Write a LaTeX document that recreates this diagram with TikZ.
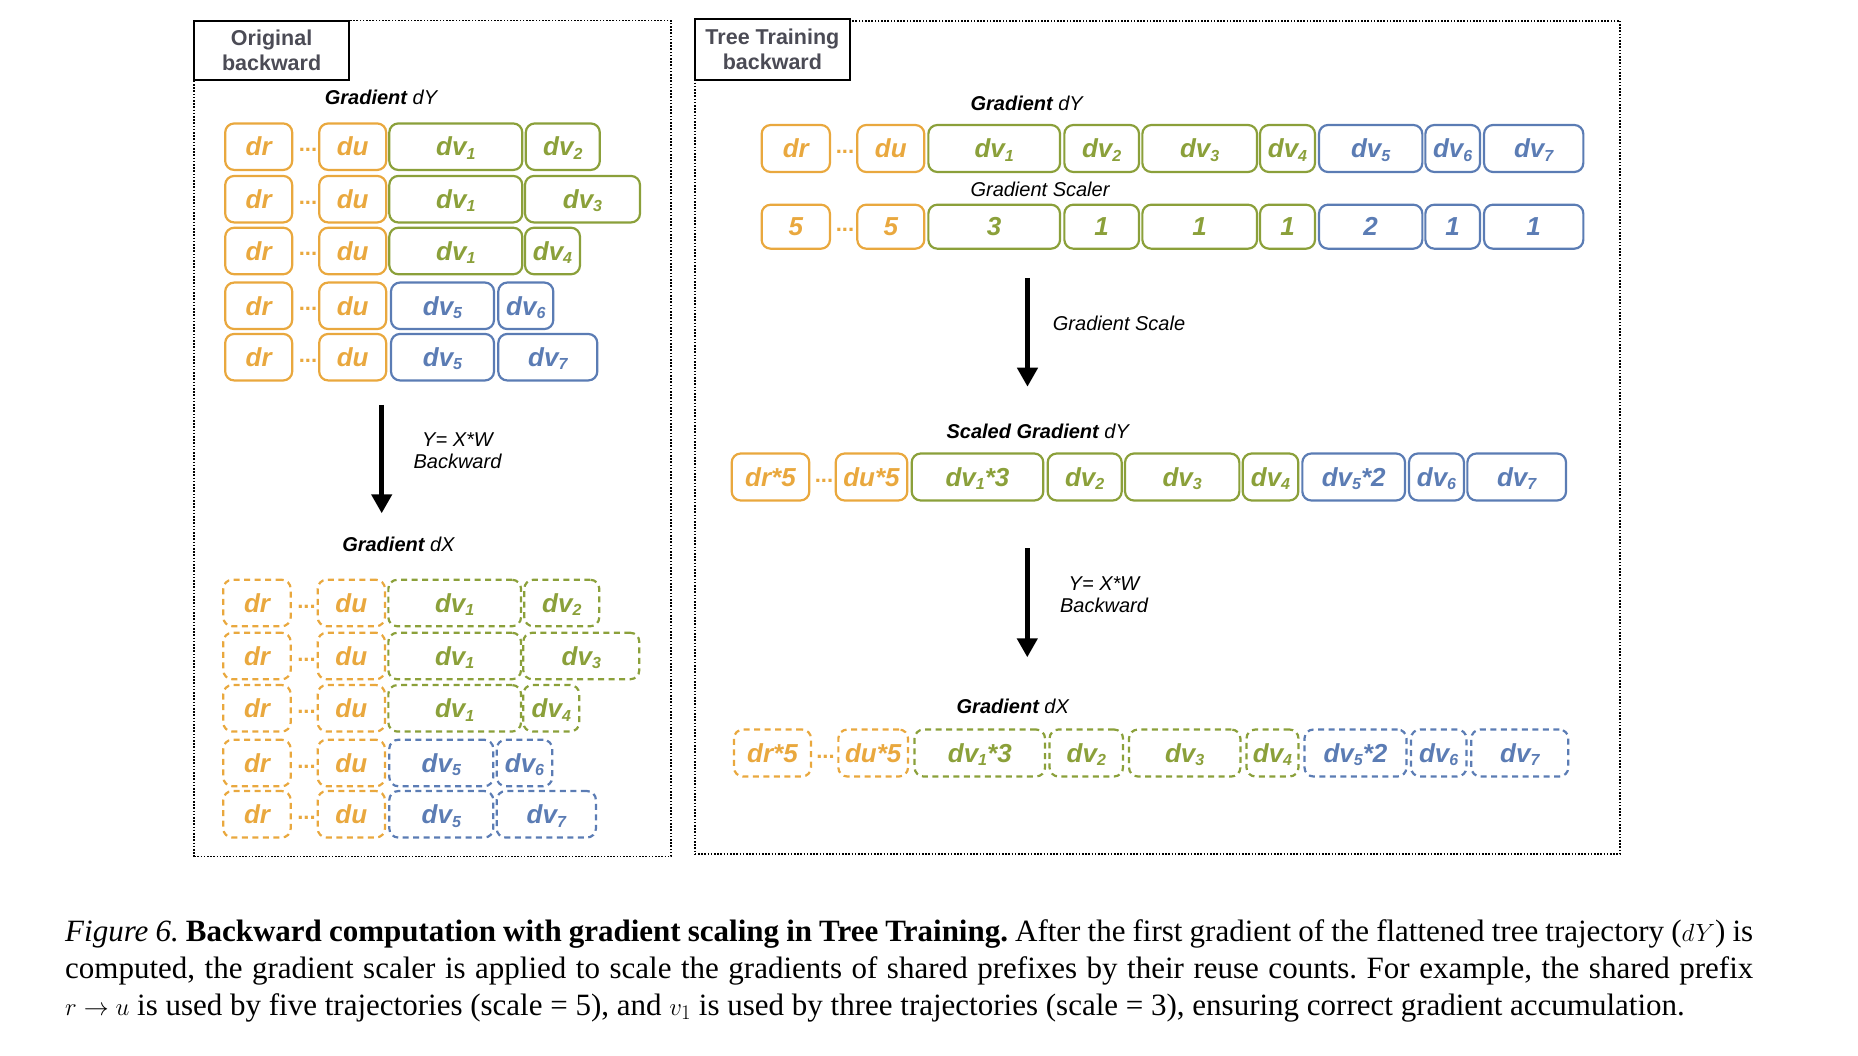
\documentclass[tikz,border=0pt]{standalone}
\usepackage{fontspec}
\setmainfont{Liberation Serif}
\setsansfont{Liberation Sans}
\usetikzlibrary{arrows.meta}
\definecolor{cor}{RGB}{233,168,62}
\definecolor{cgr}{RGB}{139,160,58}
\definecolor{cbl}{RGB}{91,124,180}
\definecolor{chd}{RGB}{75,75,85}
\newcommand\sbs[1]{\raisebox{-3.5pt}{\fontsize{16}{16}\selectfont #1}}
\newcommand\bxn[8]{\node[#1=#2,minimum width=#6pt,minimum height=#7pt] (#3) at (#4,#5) {#8};}
\begin{document}
\begin{tikzpicture}[x=1pt,y=-1pt,
  bxbase/.style={draw=#1,text=#1,rounded corners=9pt,line width=2.2pt,inner sep=0pt,outer sep=0pt,
    font=\sffamily\bfseries\itshape\fontsize{26}{26}\selectfont,text height=18.5pt,text depth=0pt},
  sb/.style={bxbase=#1},
  db/.style={bxbase=#1,dash pattern=on 6pt off 4.5pt},
  dots/.style={text=#1,anchor=base,inner sep=0pt,font=\sffamily\bfseries\fontsize{22}{22}\selectfont},
  ttl/.style={inner sep=0pt,font=\sffamily\itshape\fontsize{20}{20}\selectfont,text height=14.3pt,text depth=0pt},
  lbl/.style={inner sep=0pt,align=center,font=\sffamily\itshape\fontsize{20}{21.7}\selectfont},
  frame/.style={draw=black,line width=1.6pt,dash pattern=on 1.6pt off 1.6pt,inner sep=0pt},
  hdr/.style={draw=black,fill=white,line width=2pt,inner sep=0pt,align=center,text=chd,
    font=\sffamily\bfseries\fontsize{21.5}{25}\selectfont},
  big/.style={line width=4.5pt,-{Triangle[width=20pt,length=19pt]}},
  captxt/.style={anchor=north west,inner sep=0pt,text width=1688pt,align=justify,font=\fontsize{31}{37}\selectfont\frenchspacing}
]
\useasboundingbox (0,0) rectangle (1858,1056);
% frames
\node[frame,minimum width=476.8pt,minimum height=835.8pt] (LF) at (432.6,438.6) {};
\node[frame,minimum width=925.2pt,minimum height=833.3pt] (RF) at (1157.4,437.4) {};
\node[hdr,minimum width=154.8pt,minimum height=59.3pt] (LH) at (271.6,50.4) {Original\\backward};
\node[hdr,minimum width=155.2pt,minimum height=60.7pt] (RH) at (772.4,49.7) {Tree Training\\backward};

% ---------- left: Gradient dY ----------
\node[ttl] (ltY) at (381,97) {\textbf{Gradient} dY};
% row 1
\bxn{sb}{cor}{a1r}{258.7}{146.7}{67}{46.5}{dr}
\node[dots=cor] (a1d) at (308,151.7) {...};
\bxn{sb}{cor}{a1u}{352.7}{146.7}{67}{46.5}{du}
\bxn{sb}{cgr}{a1v}{455.8}{146.7}{133}{46.5}{dv\sbs{1}}
\bxn{sb}{cgr}{a1w}{562.8}{146.7}{74}{46.5}{dv\sbs{2}}
% row 2
\bxn{sb}{cor}{a2r}{258.7}{199.2}{67}{46.5}{dr}
\node[dots=cor] (a2d) at (308,204.2) {...};
\bxn{sb}{cor}{a2u}{352.7}{199.2}{67}{46.5}{du}
\bxn{sb}{cgr}{a2v}{455.8}{199.2}{133}{46.5}{dv\sbs{1}}
\bxn{sb}{cgr}{a2w}{582.5}{199.2}{115}{46.5}{dv\sbs{3}}
% row 3
\bxn{sb}{cor}{a3r}{258.7}{251}{67}{46.5}{dr}
\node[dots=cor] (a3d) at (308,256) {...};
\bxn{sb}{cor}{a3u}{352.7}{251}{67}{46.5}{du}
\bxn{sb}{cgr}{a3v}{455.8}{251}{133}{46.5}{dv\sbs{1}}
\bxn{sb}{cgr}{a3w}{552.5}{251}{55}{46.5}{dv\sbs{4}}
% row 4
\bxn{sb}{cor}{a4r}{258.7}{305.8}{67}{46.5}{dr}
\node[dots=cor] (a4d) at (308,310.8) {...};
\bxn{sb}{cor}{a4u}{352.7}{305.8}{67}{46.5}{du}
\bxn{sb}{cbl}{a4v}{442.5}{305.8}{103}{46.5}{dv\sbs{5}}
\bxn{sb}{cbl}{a4w}{525.8}{305.8}{55}{46.5}{dv\sbs{6}}
% row 5
\bxn{sb}{cor}{a5r}{258.7}{357.2}{67}{46.5}{dr}
\node[dots=cor] (a5d) at (308,362.2) {...};
\bxn{sb}{cor}{a5u}{352.7}{357.2}{67}{46.5}{du}
\bxn{sb}{cbl}{a5v}{442.5}{357.2}{103}{46.5}{dv\sbs{5}}
\bxn{sb}{cbl}{a5w}{547.8}{357.2}{99}{46.5}{dv\sbs{7}}

% arrow left
\coordinate (la0) at (381.7,405);
\coordinate (la1) at (381.7,513.3);
\draw[big] (la0) -- (la1);
\node[lbl] (lYW) at (457.5,451) {Y= X*W\\Backward};

% ---------- left: Gradient dX ----------
\node[ttl] (ltX) at (398.4,544) {\textbf{Gradient} dX};
% row 1
\bxn{db}{cor}{b1r}{257}{603}{67.4}{46.5}{dr}
\node[dots=cor] (b1d) at (306.5,608) {...};
\bxn{db}{cor}{b1u}{351.3}{603}{67.3}{46.5}{du}
\bxn{db}{cgr}{b1v}{454.7}{603}{132.7}{46.5}{dv\sbs{1}}
\bxn{db}{cgr}{b1w}{561.8}{603}{75}{46.5}{dv\sbs{2}}
% row 2
\bxn{db}{cor}{b2r}{257}{656}{67.4}{46.5}{dr}
\node[dots=cor] (b2d) at (306.5,661) {...};
\bxn{db}{cor}{b2u}{351.3}{656}{67.3}{46.5}{du}
\bxn{db}{cgr}{b2v}{454.7}{656}{132.7}{46.5}{dv\sbs{1}}
\bxn{db}{cgr}{b2w}{581.3}{656}{116}{46.5}{dv\sbs{3}}
% row 3
\bxn{db}{cor}{b3r}{257}{708.3}{67.4}{46.5}{dr}
\node[dots=cor] (b3d) at (306.5,713.3) {...};
\bxn{db}{cor}{b3u}{351.3}{708.3}{67.3}{46.5}{du}
\bxn{db}{cgr}{b3v}{454.7}{708.3}{132.7}{46.5}{dv\sbs{1}}
\bxn{db}{cgr}{b3w}{551.3}{708.3}{56}{46.5}{dv\sbs{4}}
% row 4
\bxn{db}{cor}{b4r}{257}{763}{67.4}{46.5}{dr}
\node[dots=cor] (b4d) at (306.5,768) {...};
\bxn{db}{cor}{b4u}{351.3}{763}{67.3}{46.5}{du}
\bxn{db}{cbl}{b4v}{441.3}{763}{104}{46.5}{dv\sbs{5}}
\bxn{db}{cbl}{b4w}{524.5}{763}{55.6}{46.5}{dv\sbs{6}}
% row 5
\bxn{db}{cor}{b5r}{257}{814.3}{67.4}{46.5}{dr}
\node[dots=cor] (b5d) at (306.5,819.3) {...};
\bxn{db}{cor}{b5u}{351.3}{814.3}{67.3}{46.5}{du}
\bxn{db}{cbl}{b5v}{441.3}{814.3}{104}{46.5}{dv\sbs{5}}
\bxn{db}{cbl}{b5w}{546.3}{814.3}{99.3}{46.5}{dv\sbs{7}}

% ---------- right: Gradient dY ----------
\node[ttl] (rtY) at (1026.7,103.3) {\textbf{Gradient} dY};
\bxn{sb}{cor}{c1}{795.8}{148.5}{68.3}{47}{dr}
\node[dots=cor] (cd) at (845,153.5) {...};
\bxn{sb}{cor}{c2}{890.8}{148.5}{67}{47}{du}
\bxn{sb}{cgr}{c3}{994.2}{148.5}{131.7}{47}{dv\sbs{1}}
\bxn{sb}{cgr}{c4}{1101.7}{148.5}{74.7}{47}{dv\sbs{2}}
\bxn{sb}{cgr}{c5}{1199.7}{148.5}{114.7}{47}{dv\sbs{3}}
\bxn{sb}{cgr}{c6}{1287.5}{148.5}{55}{47}{dv\sbs{4}}
\bxn{sb}{cbl}{c7}{1370.7}{148.5}{103.3}{47}{dv\sbs{5}}
\bxn{sb}{cbl}{c8}{1452.7}{148.5}{54.7}{47}{dv\sbs{6}}
\bxn{sb}{cbl}{c9}{1533.7}{148.5}{99.3}{47}{dv\sbs{7}}

\node[ttl] (rtS) at (1040,189.3) {Gradient Scaler};
\bxn{sb}{cor}{s1}{795.8}{226.7}{68.3}{44}{5}
\node[dots=cor] (sd) at (845,231.7) {...};
\bxn{sb}{cor}{s2}{890.8}{226.7}{67}{44}{5}
\bxn{sb}{cgr}{s3}{994.2}{226.7}{131.7}{44}{3}
\bxn{sb}{cgr}{s4}{1101.7}{226.7}{74.7}{44}{1}
\bxn{sb}{cgr}{s5}{1199.7}{226.7}{114.7}{44}{1}
\bxn{sb}{cgr}{s6}{1287.5}{226.7}{55}{44}{1}
\bxn{sb}{cbl}{s7}{1370.7}{226.7}{103.3}{44}{2}
\bxn{sb}{cbl}{s8}{1452.7}{226.7}{54.7}{44}{1}
\bxn{sb}{cbl}{s9}{1533.7}{226.7}{99.3}{44}{1}

% arrow: gradient scale
\coordinate (ra0) at (1027.5,278);
\coordinate (ra1) at (1027.5,386.7);
\draw[big] (ra0) -- (ra1);
\node[ttl,anchor=west] (rtGS) at (1052.7,323.3) {Gradient Scale};

% ---------- right: Scaled Gradient dY ----------
\node[ttl] (rtSY) at (1037.7,431.7) {\textbf{Scaled Gradient} dY};
\bxn{sb}{cor}{d1}{770.5}{477}{77.6}{47}{dr*5}
\node[dots=cor] (dd) at (824,482) {...};
\bxn{sb}{cor}{d2}{871.5}{477}{71.6}{47}{du*5}
\bxn{sb}{cgr}{d3}{977.5}{477}{131.6}{47}{dv\sbs{1}*3}
\bxn{sb}{cgr}{d4}{1084.7}{477}{74}{47}{dv\sbs{2}}
\bxn{sb}{cgr}{d5}{1182.2}{477}{114.3}{47}{dv\sbs{3}}
\bxn{sb}{cgr}{d6}{1270.5}{477}{55.6}{47}{dv\sbs{4}}
\bxn{sb}{cbl}{d7}{1353.7}{477}{102.7}{47}{dv\sbs{5}*2}
\bxn{sb}{cbl}{d8}{1436.5}{477}{55}{47}{dv\sbs{6}}
\bxn{sb}{cbl}{d9}{1516.7}{477}{98.7}{47}{dv\sbs{7}}

% arrow: backward
\coordinate (rb0) at (1027.3,548.3);
\coordinate (rb1) at (1027.3,657.3);
\draw[big] (rb0) -- (rb1);
\node[lbl] (rYW) at (1104,595) {Y= X*W\\Backward};

% ---------- right: Gradient dX ----------
\node[ttl] (rtX) at (1012.8,706.7) {\textbf{Gradient} dX};
\bxn{db}{cor}{e1}{772.5}{753}{77}{47}{dr*5}
\node[dots=cor] (ed) at (825.5,758) {...};
\bxn{db}{cor}{e2}{873.2}{753}{69.7}{47}{du*5}
\bxn{db}{cgr}{e3}{979.8}{753}{130.5}{47}{dv\sbs{1}*3}
\bxn{db}{cgr}{e4}{1086.3}{753}{73.5}{47}{dv\sbs{2}}
\bxn{db}{cgr}{e5}{1184.7}{753}{111.4}{47}{dv\sbs{3}}
\bxn{db}{cgr}{e6}{1272.5}{753}{52}{47}{dv\sbs{4}}
\bxn{db}{cbl}{e7}{1355.5}{753}{102}{47}{dv\sbs{5}*2}
\bxn{db}{cbl}{e8}{1438.7}{753}{55.4}{47}{dv\sbs{6}}
\bxn{db}{cbl}{e9}{1519.8}{753}{97}{47}{dv\sbs{7}}

% ---------- caption ----------
\node[captxt] (capt) at (65,919) {\textit{Figure 6.} \textbf{Backward computation with gradient scaling in Tree Training.} After the first gradient of the flattened tree trajectory ($dY$) is\linebreak computed, the gradient scaler is applied to scale the gradients of shared prefixes by their reuse counts. For example, the shared prefix\linebreak $r\rightarrow u$ is used by five trajectories (scale = 5), and $v_1$ is used by three trajectories (scale = 3), ensuring correct gradient accumulation.};
\end{tikzpicture}
\end{document}
